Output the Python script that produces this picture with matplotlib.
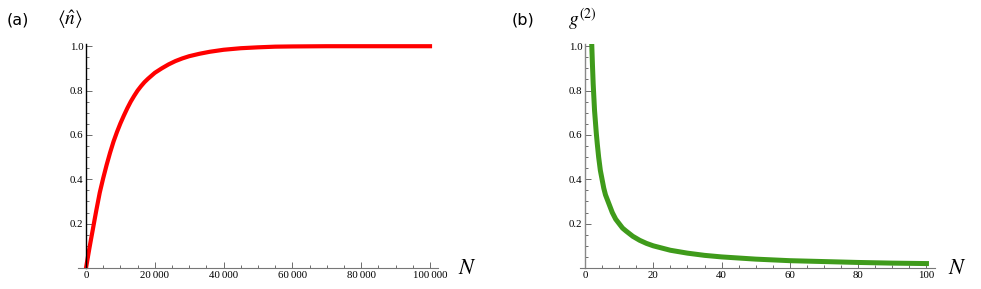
import matplotlib
matplotlib.use("Agg")
import matplotlib.pyplot as plt
from matplotlib.ticker import MultipleLocator, FuncFormatter

plt.rcParams['mathtext.fontset'] = 'stix'

# (a) mean photon number vs N
n_a = [0, 500, 1000, 1500, 2000, 2500, 3000, 3500, 4000, 5000, 6000, 7000,
       8000, 9000, 10000, 11000, 12000, 13000, 14000, 15000, 16000, 17000,
       18000, 20000, 22000, 24000, 26000, 28000, 30000, 33000, 36000, 40000,
       45000, 50000, 55000, 60000, 70000, 80000, 100000]
nbar = [0, 0.045, 0.09, 0.133, 0.175, 0.218, 0.26, 0.3, 0.34, 0.405, 0.465,
        0.52, 0.57, 0.613, 0.652, 0.687, 0.72, 0.75, 0.776, 0.80, 0.82,
        0.838, 0.853, 0.88, 0.9, 0.918, 0.933, 0.945, 0.955, 0.966, 0.975,
        0.984, 0.991, 0.995, 0.998, 0.999, 1.0, 1.0, 1.0]

# (b) g2 vs N
n_b = [2, 2.2, 2.4, 2.6, 2.8, 3, 3.3, 3.6, 4, 4.5, 5, 5.5, 6, 7, 8, 9, 10,
       11, 12, 14, 16, 18, 20, 25, 30, 35, 40, 50, 60, 70, 80, 90, 100]
g2 = [1.0, 0.91, 0.83, 0.77, 0.71, 0.67, 0.61, 0.56, 0.5, 0.44, 0.4, 0.36,
      0.33, 0.29, 0.25, 0.22, 0.2, 0.18, 0.167, 0.143, 0.125, 0.111, 0.1,
      0.08, 0.067, 0.057, 0.05, 0.04, 0.033, 0.029, 0.025, 0.022, 0.02]

W, H = 981, 289
fig = plt.figure(figsize=(W / 100, H / 100), dpi=100)

tick_family = ['Liberation Serif', 'DejaVu Serif']


def make_axes(x0, x1, y0, y1):
    # pixel box -> figure fraction
    return fig.add_axes([x0 / W, 1 - y1 / H, (x1 - x0) / W, (y1 - y0) / H])


def style(ax, ycolor):
    for s in ['top', 'right']:
        ax.spines[s].set_visible(False)
    ax.spines['left'].set_position(('data', 0))
    ax.spines['left'].set_color(ycolor)
    ax.spines['bottom'].set_color('#777777')
    ax.spines['left'].set_linewidth(1.0)
    ax.spines['bottom'].set_linewidth(0.8)
    ax.yaxis.set_major_locator(MultipleLocator(0.2))
    ax.yaxis.set_minor_locator(MultipleLocator(0.05))
    ax.tick_params(which='both', direction='in', color='#555555', width=0.6,
                   pad=2)
    ax.tick_params(which='major', length=4)
    ax.tick_params(which='minor', length=2)
    ax.yaxis.set_major_formatter(FuncFormatter(
        lambda v, p: '' if abs(v) < 1e-9 else '%.1f' % v))
    ax.set_ylim(0, 1.01)
    ax.patch.set_visible(False)
    for lab in ax.get_xticklabels() + ax.get_yticklabels():
        lab.set_fontfamily(tick_family)
        lab.set_fontsize(7.8)


# panel (a)
ax1 = make_axes(78, 438, 44, 268)
ax1.plot(n_a, nbar, color='#ff0000', lw=3, solid_joinstyle='round')
ax1.set_xlim(-2325, 102325)
ax1.xaxis.set_major_locator(MultipleLocator(20000))
ax1.xaxis.set_minor_locator(MultipleLocator(5000))
ax1.xaxis.set_major_formatter(FuncFormatter(
    lambda v, p: '0' if v == 0 else '{:,}'.format(int(v)).replace(',', '\u2009')))
style(ax1, 'black')

# panel (b)
ax2 = make_axes(580, 935, 44, 268)
ax2.plot(n_b, g2, color='#3f9b1b', lw=3.6, solid_joinstyle='round')
ax2.set_xlim(-1.46, 102.5)
ax2.xaxis.set_major_locator(MultipleLocator(20))
ax2.xaxis.set_minor_locator(MultipleLocator(5))
ax2.xaxis.set_major_formatter(FuncFormatter(lambda v, p: '%d' % v))
style(ax2, '#888888')

# panel labels and axis titles
fig.text(18 / W, 1 - 20 / H, '(a)', ha='center', va='center', fontsize=11.5,
         family='DejaVu Sans')
fig.text(70 / W, 1 - 20 / H, r'$\langle\hat{n}\rangle$', ha='center',
         va='center', fontsize=14)
fig.text(523 / W, 1 - 20 / H, '(b)', ha='center', va='center', fontsize=11.5,
         family='DejaVu Sans')
fig.text(582 / W, 1 - 19 / H, r'$g^{(2)}$', ha='center', va='center',
         fontsize=14)
fig.text(467 / W, 1 - 268 / H, r'$N$', ha='center', va='center', fontsize=16)
fig.text(957 / W, 1 - 268 / H, r'$N$', ha='center', va='center', fontsize=16)

fig.savefig('out.png', dpi=100)
